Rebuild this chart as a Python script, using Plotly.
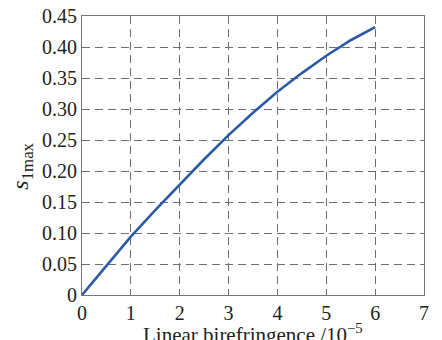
import plotly.graph_objects as go

x_vals = [0, 0.5, 1, 1.5, 2, 2.5, 3, 3.5, 4, 4.5, 5, 5.5, 6]
s_vals = [0, 0.047, 0.094, 0.137, 0.178, 0.219, 0.258, 0.294, 0.328, 0.358, 0.386, 0.411, 0.432]

x_ticks = [0, 1, 2, 3, 4, 5, 6, 7]
y_ticks = [0, 0.05, 0.10, 0.15, 0.20, 0.25, 0.30, 0.35, 0.40, 0.45]
y_labels = ["0", "0.05", "0.10", "0.15", "0.20", "0.25", "0.30", "0.35", "0.40", "0.45"]

fig = go.Figure()
fig.add_trace(go.Scatter(x=x_vals, y=s_vals, mode="lines",
                         line=dict(color="#2c5aa6", width=2.6), showlegend=False))

font = "Liberation Serif"
fig.update_layout(
    width=442, height=340,
    margin=dict(l=82, r=18, t=16, b=45),
    paper_bgcolor="white", plot_bgcolor="white",
    font=dict(family=font, size=18, color="#222"),
    xaxis=dict(range=[0, 7.0001], tickvals=x_ticks, showgrid=True, gridcolor="#6e6e6e",
               griddash="8px,5px", gridwidth=1, showline=True, linecolor="#777",
               linewidth=1.2, mirror=True, zeroline=False, ticks="", automargin=False,
               tickfont=dict(size=20)),
    yaxis=dict(range=[0, 0.4501], tickvals=y_ticks, ticktext=y_labels, showgrid=True,
               gridcolor="#6e6e6e", griddash="8px,5px", gridwidth=1, showline=True,
               linecolor="#777", linewidth=1.2, mirror=True, zeroline=False, ticks="",
               automargin=False, tickfont=dict(size=20)),
    annotations=[
        dict(text="Linear birefringence /10<sup>−5</sup>", x=0.5, y=0, xref="paper",
             yref="paper", xanchor="center", yanchor="top", yshift=-23,
             showarrow=False, font=dict(size=21)),
        dict(text="<i>s</i><sub>1max</sub>", x=0, y=0.46, xref="paper", yref="paper",
             xanchor="center", yanchor="middle", xshift=-60, textangle=-90,
             showarrow=False, font=dict(size=24)),
    ],
)
fig.write_html("out.html", config={"displayModeBar": False},
               post_script="document.body.style.margin='0';document.body.style.overflow='hidden';")
